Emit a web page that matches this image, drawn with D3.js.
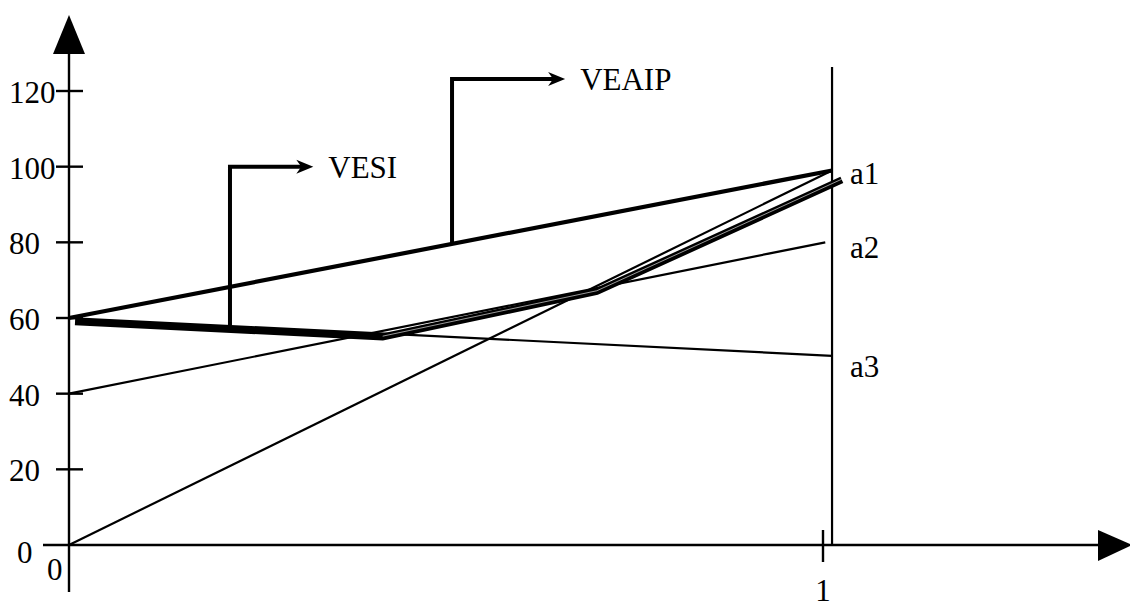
<!DOCTYPE html>
<html>
<head>
<meta charset="utf-8">
<script src="https://cdn.jsdelivr.net/npm/d3@7"></script>
<style>
  html, body { margin: 0; padding: 0; background: #fff; }
  svg { display: block; }
  text { font-family: "Liberation Serif", "DejaVu Serif", serif; font-size: 31px; fill: #000; }
</style>
</head>
<body>
<svg id="chart" width="1130" height="608"></svg>
<script>
// ---- data ----
const yTicks = [0, 20, 40, 60, 80, 100, 120];
const xTickValues = [1];
const xTickLabels = ["1"];
const lineA1 = [[0, 0], [1.012, 99]];
const lineA2 = [[0, 40], [1.003, 80]];
const lineA3 = [[0, 60], [1.012, 50]];
const lineVEAIP = [[0, 60], [1.012, 99]];
const lineVESI = [[0.008, 59], [0.416, 55], [0.70, 67], [1.025, 96.5]];
const endLabels = [["a1", 98.5], ["a2", 79], ["a3", 47.5]];
const annoVESI = { name: "VESI", x: 0.2135, yBase: 58, yTop: 100, xTip: 0.324 };
const annoVEAIP = { name: "VEAIP", x: 0.508, yBase: 79.6, yTop: 123.2, xTip: 0.658 };
const boundaryX = 1.012;

// ---- scales ----
const svg = d3.select("#chart");
const x = d3.scaleLinear().domain([0, 1]).range([69, 823]);
const y = d3.scaleLinear().domain([0, 120]).range([545, 91]);
const line = d3.line().x(d => x(d[0])).y(d => y(d[1]));

// ---- axes ----
const axisG = svg.append("g").attr("stroke", "#000").attr("stroke-width", 2.4);
axisG.append("line").attr("x1", x(0)).attr("x2", x(0)).attr("y1", 53).attr("y2", 592);
axisG.append("line").attr("x1", 43).attr("x2", 1100).attr("y1", y(0)).attr("y2", y(0));
svg.append("path").attr("fill", "#000")
  .attr("d", `M${x(0)},15 L${x(0) + 16},54 L${x(0) - 16},54 Z`);
svg.append("path").attr("fill", "#000")
  .attr("d", `M1132,${y(0)} L1098,${y(0) - 15} L1098,${y(0) + 16} Z`);

yTicks.forEach(t => {
  if (t > 0) {
    axisG.append("line").attr("x1", x(0) - 13).attr("x2", x(0) + 14).attr("y1", y(t)).attr("y2", y(t));
    svg.append("text").attr("x", 9).attr("y", y(t) + 12).text(t);
  }
});
svg.append("text").attr("x", 17).attr("y", y(0) + 18).text("0");
svg.append("text").attr("x", 47).attr("y", y(0) + 35).text("0");

xTickValues.forEach((t, i) => {
  axisG.append("line").attr("x1", x(t)).attr("x2", x(t)).attr("y1", y(0) - 15).attr("y2", y(0) + 17);
  svg.append("text").attr("x", x(t)).attr("y", 601).attr("text-anchor", "middle").text(xTickLabels[i]);
});

svg.append("line").attr("stroke", "#000").attr("stroke-width", 2.2)
  .attr("x1", x(boundaryX)).attr("x2", x(boundaryX)).attr("y1", 67).attr("y2", y(0));

// ---- thin lines ----
[lineA1, lineA2, lineA3].forEach(d => {
  svg.append("path").attr("d", line(d)).attr("fill", "none")
    .attr("stroke", "#000").attr("stroke-width", 2.2);
});

// ---- VEAIP ----
svg.append("path").attr("d", line(lineVEAIP)).attr("fill", "none")
  .attr("stroke", "#000").attr("stroke-width", 4.2).attr("stroke-linejoin", "miter");

// ---- VESI (heavy line with hairline gap after the first kink) ----
svg.append("path").attr("d", line(lineVESI)).attr("fill", "none")
  .attr("stroke", "#000").attr("stroke-width", 7).attr("stroke-linejoin", "miter");
svg.append("path").attr("d", line(lineVESI.slice(1).map(p => [p[0], p[1] + 0.2])))
  .attr("fill", "none").attr("stroke", "#fff").attr("stroke-width", 0.6);

// ---- end labels ----
endLabels.forEach(([name, v]) => {
  svg.append("text").attr("x", 850).attr("y", y(v) + 12).text(name);
});

// ---- annotations ----
function annotate(a) {
  const px = x(a.x), pyB = y(a.yBase), pyT = y(a.yTop), tip = x(a.xTip);
  svg.append("path").attr("fill", "none").attr("stroke", "#000").attr("stroke-width", 4)
    .attr("stroke-linejoin", "miter")
    .attr("d", `M${px},${pyB} L${px},${pyT} L${tip - 10},${pyT}`);
  svg.append("path").attr("fill", "#000")
    .attr("d", `M${tip},${pyT} L${tip - 17},${pyT - 7} L${tip - 12},${pyT} L${tip - 17},${pyT + 7} Z`);
  svg.append("text").attr("x", tip + 15).attr("y", pyT + 11).text(a.name);
}
annotate(annoVESI);
annotate(annoVEAIP);
</script>
</body>
</html>
